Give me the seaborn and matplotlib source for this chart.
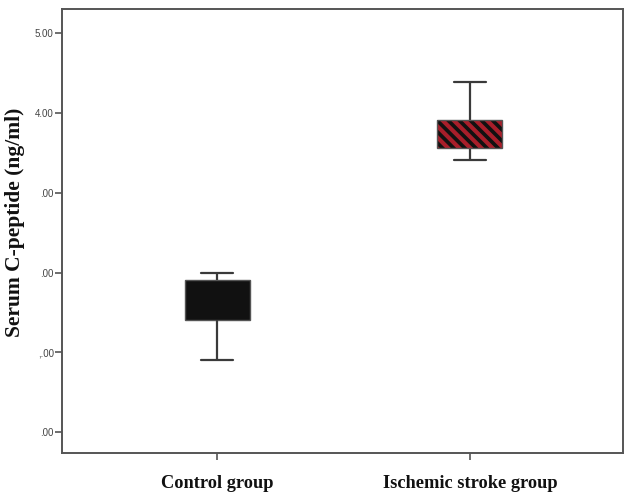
import matplotlib
matplotlib.use("Agg")
import matplotlib.pyplot as plt
import matplotlib.transforms as mtransforms
from matplotlib.patches import PathPatch
import seaborn as sns
import pandas as pd

# Five-number summaries per group: min, Q1, median, Q3, max (ng/ml)
groups = ["Control group", "Ischemic stroke group"]
control_values = [0.91, 1.40, 1.65, 1.91, 2.00]
stroke_values = [3.41, 3.56, 3.72, 3.91, 4.39]

y_ticks = [0, 1, 2, 3, 4, 5]
y_tick_labels = [".00", ",.00", ".00", ".00", "4.00", "5.00"]

df = pd.DataFrame({
    "group": [groups[0]] * len(control_values) + [groups[1]] * len(stroke_values),
    "value": control_values + stroke_values,
})

sns.set_theme(style="white")
plt.rcParams["hatch.linewidth"] = 3.0

fig = plt.figure(figsize=(6.25, 4.94), dpi=100)
ax = fig.add_axes([0.0992, 0.083, 0.8976, 0.8988])

sns.boxplot(
    data=df, x="group", y="value", hue="group", order=groups,
    palette={groups[0]: "#111111", groups[1]: "#111111"},
    whis=(0, 100), width=0.257, saturation=1, linewidth=1.6,
    linecolor="#3a3a3a", legend=False, ax=ax,
    medianprops={"linewidth": 0},
)

# red diagonal stripes on the stroke box, with a dark outline on top
stroke_patch = ax.patches[1]
stroke_patch.set_hatch("\\\\\\")
stroke_patch.set_edgecolor("#a81e2a")
stroke_patch.set_linewidth(0)
outline = PathPatch(stroke_patch.get_path(), transform=stroke_patch.get_transform(),
                    fill=False, edgecolor="#555555", linewidth=1.0, zorder=stroke_patch.get_zorder() + 0.1)
ax.add_patch(outline)
ax.patches[0].set_edgecolor("#555555")
ax.patches[0].set_linewidth(1.0)

ax.set_xlim(-0.613, 1.605)
ax.set_ylim(-0.26, 5.3)
ax.set_yticks(y_ticks)
ax.set_yticklabels(y_tick_labels, fontfamily="Liberation Sans", fontsize=7, color="#444444")
ax.set_xticks([0, 1])
ax.set_xticklabels(groups, fontfamily="Liberation Serif", fontweight="bold", fontsize=13.2, color="#111111")

# category labels sit slightly off their tick marks
for lbl, dx in zip(ax.get_xticklabels(), [-38, 12]):
    lbl.set_transform(lbl.get_transform() + mtransforms.ScaledTranslation(dx / 100, 0, fig.dpi_scale_trans))

ax.tick_params(axis="y", which="both", left=True, length=5, width=1.2, color="#555555", pad=1)
ax.tick_params(axis="x", which="both", bottom=True, length=5, width=1.2, color="#555555", pad=11)

for side in ["left", "right", "top", "bottom"]:
    ax.spines[side].set_color("#555555")
    ax.spines[side].set_linewidth(1.4)

ax.set_xlabel("")
ax.set_ylabel("Serum C-peptide (ng/ml)", fontfamily="Liberation Serif", fontweight="bold",
              fontsize=15.5, color="#111111")
ax.yaxis.set_label_coords(-0.066, 0.52)

fig.savefig("out.png", dpi=100)
